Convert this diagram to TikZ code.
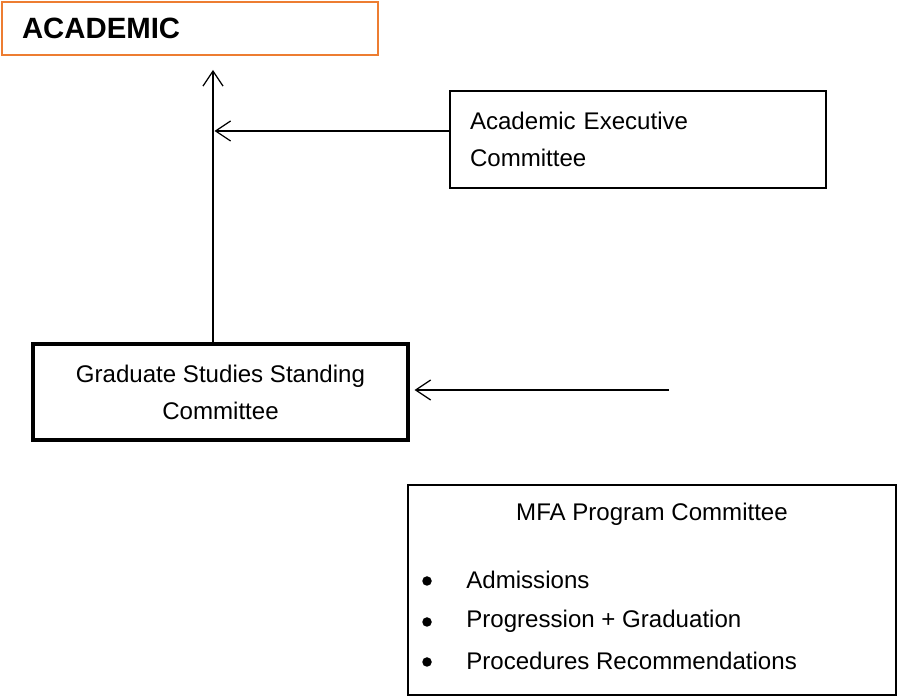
\documentclass[tikz,border=0pt]{standalone}
\usepackage{fontspec}
\setmainfont{Liberation Sans}
\usetikzlibrary{arrows.meta}
\definecolor{boxorange}{RGB}{237,125,49}

\begin{document}
\begin{tikzpicture}[
    every node/.style={font=\fontsize{13.7pt}{21pt}\selectfont},
    thinbox/.style={draw, line width=.75pt, inner sep=0pt},
    thickbox/.style={draw, line width=1.8pt, inner sep=0pt},
    dot/.style={circle, fill, inner sep=0pt, minimum size=.19cm},
    feed/.style={-{Straight Barb[length=3mm, width=4mm]}, line width=.7pt}]

    \useasboundingbox (0,0) rectangle (17.94,-13.92);

    % boxes
    \node[draw=boxorange, line width=1.5pt, minimum width=7.52cm, minimum height=1.06cm, text width=6.72cm, inner xsep=.4cm, align=left,
          font=\fontsize{16.7pt}{20pt}\selectfont\bfseries] (academic) at (3.80,-0.57) {ACADEMIC};
    \node[thinbox, minimum width=7.52cm, minimum height=1.94cm, text width=6.72cm, inner xsep=.4cm, align=left] (aec) at (12.76,-2.79) {Academic Executive\\Committee};
    \node[thickbox, minimum width=7.5cm, minimum height=1.92cm, align=center] (gssc) at (4.41,-7.84) {Graduate Studies Standing\\Committee};
    \node[thinbox, minimum width=9.76cm, minimum height=4.2cm] (mfa) at (13.04,-11.8) {};

    % inside the MFA box
    \node (mfatitle) at (13.04,-10.28) {MFA Program Committee};
    \node[dot] (b1) at (8.54,-11.62) {};
    \node[anchor=west, inner xsep=0pt] (adm) at (9.32,-11.6) {Admissions};
    \node[dot] (b2) at (8.54,-12.44) {};
    \node[anchor=west, inner xsep=0pt] (prog) at (9.32,-12.42) {Progression + Graduation};
    \node[dot] (b3) at (8.54,-13.24) {};
    \node[anchor=west, inner xsep=0pt] (proc) at (9.32,-13.22) {Procedures Recommendations};

    % connectors
    \coordinate (top) at (4.26,-1.40);
    \coordinate (join) at (4.29,-2.62);
    \coordinate (loose) at (13.38,-7.80);

    \draw[feed] (gssc.north -| top) -- (top);
    \draw[feed] (aec.west |- join) -- (join);
    \draw[feed, shorten >=1mm] (loose) -- (gssc.east |- loose);

\end{tikzpicture}
\end{document}
